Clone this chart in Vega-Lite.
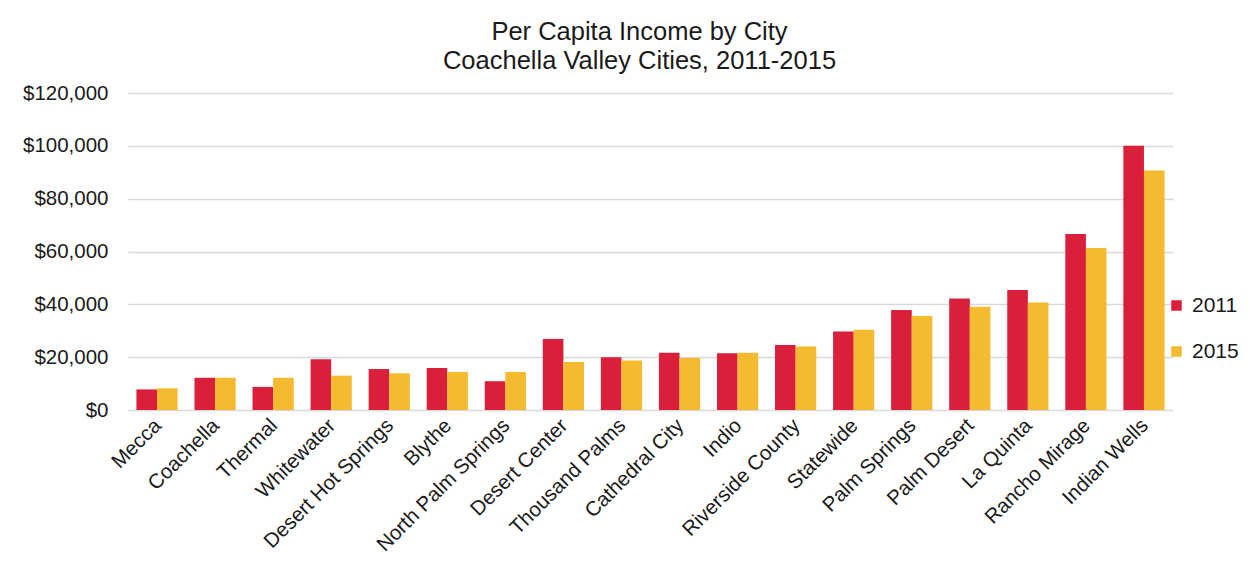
{
  "$schema": "https://vega.github.io/schema/vega-lite/v6.json",
  "width": 1045,
  "height": 317,
  "autosize": {"type": "none"},
  "padding": {"left": 128, "top": 93, "right": 83, "bottom": 165},
  "background": "white",
  "title": {
    "text": ["Per Capita Income by City", "Coachella Valley Cities, 2011-2015"],
    "font": "Liberation Sans",
    "fontSize": 25.5,
    "fontWeight": "normal",
    "color": "#1a1a1a",
    "lineHeight": 29,
    "anchor": "middle",
    "frame": "group",
    "offset": 9,
    "dx": -11
  },
  "data": {
    "values": [
      {"city": "Mecca", "year": "2011", "income": 7800},
      {"city": "Mecca", "year": "2015", "income": 8200},
      {"city": "Coachella", "year": "2011", "income": 12200},
      {"city": "Coachella", "year": "2015", "income": 12200},
      {"city": "Thermal", "year": "2011", "income": 8700},
      {"city": "Thermal", "year": "2015", "income": 12200},
      {"city": "Whitewater", "year": "2011", "income": 19200},
      {"city": "Whitewater", "year": "2015", "income": 13000},
      {"city": "Desert Hot Springs", "year": "2011", "income": 15500},
      {"city": "Desert Hot Springs", "year": "2015", "income": 13900},
      {"city": "Blythe", "year": "2011", "income": 15900},
      {"city": "Blythe", "year": "2015", "income": 14400},
      {"city": "North Palm Springs", "year": "2011", "income": 10900},
      {"city": "North Palm Springs", "year": "2015", "income": 14400},
      {"city": "Desert Center", "year": "2011", "income": 26900},
      {"city": "Desert Center", "year": "2015", "income": 18200},
      {"city": "Thousand Palms", "year": "2011", "income": 20000},
      {"city": "Thousand Palms", "year": "2015", "income": 18700},
      {"city": "Cathedral City", "year": "2011", "income": 21700},
      {"city": "Cathedral City", "year": "2015", "income": 19700},
      {"city": "Indio", "year": "2011", "income": 21500},
      {"city": "Indio", "year": "2015", "income": 21700},
      {"city": "Riverside County", "year": "2011", "income": 24600},
      {"city": "Riverside County", "year": "2015", "income": 24000},
      {"city": "Statewide", "year": "2011", "income": 29700},
      {"city": "Statewide", "year": "2015", "income": 30400},
      {"city": "Palm Springs", "year": "2011", "income": 37900},
      {"city": "Palm Springs", "year": "2015", "income": 35600},
      {"city": "Palm Desert", "year": "2011", "income": 42200},
      {"city": "Palm Desert", "year": "2015", "income": 39100},
      {"city": "La Quinta", "year": "2011", "income": 45400},
      {"city": "La Quinta", "year": "2015", "income": 40700},
      {"city": "Rancho Mirage", "year": "2011", "income": 66600},
      {"city": "Rancho Mirage", "year": "2015", "income": 61300},
      {"city": "Indian Wells", "year": "2011", "income": 100000},
      {"city": "Indian Wells", "year": "2015", "income": 90700}
    ]
  },
  "mark": {"type": "bar"},
  "encoding": {
    "x": {
      "field": "city",
      "type": "nominal",
      "sort": null,
      "title": null,
      "scale": {"paddingInner": 0.29, "paddingOuter": 0.145},
      "axis": {
        "labelAngle": -45,
        "labelAlign": "right",
        "labelBaseline": "top",
        "labelFont": "Liberation Sans",
        "labelFontSize": 20.5,
        "labelColor": "#1a1a1a",
        "labelPadding": 5,
        "labelOffset": -6,
        "ticks": false,
        "domain": false,
        "grid": false
      }
    },
    "xOffset": {"field": "year", "type": "nominal", "scale": {"paddingInner": 0, "paddingOuter": 0}},
    "y": {
      "field": "income",
      "type": "quantitative",
      "title": null,
      "scale": {"domain": [0, 120000], "nice": false},
      "axis": {
        "values": [0, 20000, 40000, 60000, 80000, 100000, 120000],
        "format": "$,.0f",
        "labelFont": "Liberation Sans",
        "labelFontSize": 20.5,
        "labelColor": "#1a1a1a",
        "labelPadding": 20,
        "ticks": false,
        "domain": false,
        "grid": true,
        "gridColor": "#d9d9d9",
        "gridWidth": 1.5
      }
    },
    "color": {
      "field": "year",
      "type": "nominal",
      "scale": {"domain": ["2011", "2015"], "range": ["#d91f3a", "#f4bb30"]},
      "legend": {
        "title": null,
        "orient": "none",
        "legendX": 1038,
        "legendY": 202,
        "symbolType": "square",
        "symbolSize": 110,
        "symbolStrokeWidth": 0,
        "labelFont": "Liberation Sans",
        "labelFontSize": 21,
        "labelColor": "#1a1a1a",
        "labelOffset": 5,
        "rowPadding": 24
      }
    }
  },
  "config": {"view": {"stroke": null}}
}
